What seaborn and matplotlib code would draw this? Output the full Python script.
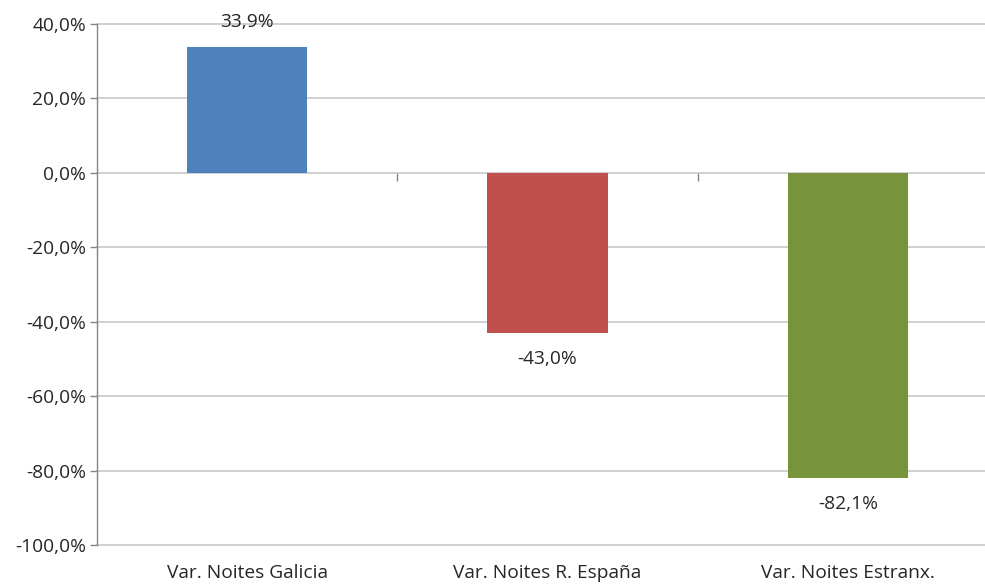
import matplotlib
matplotlib.use("Agg")
import matplotlib.pyplot as plt
import seaborn as sns
import pandas as pd

categories = ["Var. Noites Galicia", "Var. Noites R. España", "Var. Noites Estranx."]
values = [33.9, -43.0, -82.1]
colors = ["#4F81BD", "#C0504D", "#77933C"]
yticks = [-100, -80, -60, -40, -20, 0, 20, 40]

sns.set_theme(style="white")
plt.rcParams["font.family"] = ["Open Sans", "DejaVu Sans"]

df = pd.DataFrame({"cat": categories, "val": values})

fig = plt.figure(figsize=(9.85, 5.85), dpi=100)
ax = fig.add_axes([97/985, 1 - 545/585, (998 - 97)/985, (545 - 24)/585])

sns.barplot(data=df, x="cat", y="val", hue="cat", palette=colors, width=0.4,
            legend=False, ax=ax, saturation=1, linewidth=0)

FS = 13.8
ax.set_ylim(-100, 40)
ax.set_xlim(-0.5, 2.5)
ax.set_yticks(yticks)
ax.set_yticklabels([f"{v:.1f}%".replace(".", ",") for v in yticks], fontsize=FS, color="#262626")
ax.yaxis.grid(True, color="#C8C8C8", linewidth=1.2)
for gl in ax.get_ygridlines():
    gl.set_clip_on(False)
ax.set_axisbelow(True)
ax.tick_params(axis="y", length=5, width=1, color="#868686", left=True, pad=3)
ax.tick_params(axis="x", length=0, pad=14, labelsize=FS, labelcolor="#262626")
ax.set_xlabel("")
ax.set_ylabel("")
for s in ["top", "right", "bottom"]:
    ax.spines[s].set_visible(False)
ax.spines["left"].set_color("#868686")
ax.spines["left"].set_linewidth(1)

# zero axis line with category boundary ticks
sec = ax.secondary_xaxis(100 / 140)
sec.set_xticks([0.5, 1.5])
sec.set_xticklabels(["", ""])
sec.tick_params(axis="x", direction="in", length=6, width=1, color="#868686")
sec.spines["bottom"].set_color("#A0A0A0")
sec.spines["bottom"].set_linewidth(1.2)
sec.spines["top"].set_visible(False)

for i, v in enumerate(values):
    off = 18 if v >= 0 else -18.5
    ax.annotate(f"{v:.1f}%".replace(".", ","), (i, v), xytext=(0, off),
                textcoords="offset points", ha="center", va="center",
                fontsize=FS, color="#262626")

fig.savefig("out.png", dpi=100)
